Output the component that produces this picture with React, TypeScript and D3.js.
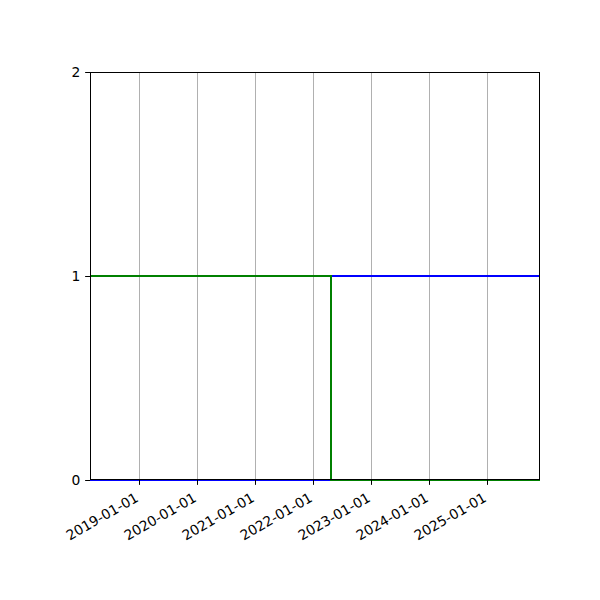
import React, { useEffect, useRef } from 'react';
import * as d3 from 'd3';

// x-axis extent and ticks (yearly)
const xStart = '2018-02-25';
const xEnd = '2025-12-03';
const tickDates = ['2019-01-01', '2020-01-01', '2021-01-01', '2022-01-01', '2023-01-01', '2024-01-01', '2025-01-01'];
const yTicks = [0, 1, 2];

// step series: value holds from its date until the next one
const blueDates = ['2018-02-25', '2022-04-27', '2025-12-03'];
const blueValues = [0, 1, 1];
const greenDates = ['2018-02-25', '2022-04-27', '2025-12-03'];
const greenValues = [1, 0, 0];

const parse = d3.timeParse('%Y-%m-%d');
const pt = 100 / 72; // points -> px at 100 dpi

const App: React.FC = () => {
  const svgRef = useRef<SVGSVGElement>(null);

  useEffect(() => {
    if (!svgRef.current) return;
    const svg = d3.select(svgRef.current);
    svg.selectAll('*').remove();

    const margin = { top: 72, right: 60, bottom: 120, left: 90 };
    const width = 600 - margin.left - margin.right;
    const height = 600 - margin.top - margin.bottom;
    const fontSize = 10 * pt;

    const g = svg.append('g').attr('transform', `translate(${margin.left},${margin.top})`);

    const x = d3.scaleTime()
      .domain([parse(xStart) as Date, parse(xEnd) as Date])
      .range([0, width]);
    const y = d3.scaleLinear().domain([0, 2]).range([height, 0]);

    const ticks = tickDates.map(d => parse(d) as Date);
    // snap to pixel centres like matplotlib does
    const sx = (d: Date) => Math.round(x(d)) + 0.5;

    // vertical grid
    g.append('g')
      .selectAll('line')
      .data(ticks)
      .enter()
      .append('line')
      .attr('x1', d => sx(d))
      .attr('x2', d => sx(d))
      .attr('y1', 0)
      .attr('y2', height)
      .attr('stroke', '#b0b0b0')
      .attr('stroke-width', 1);

    const line = d3.line<[Date, number]>()
      .x(d => Math.round(x(d[0])))
      .y(d => Math.round(y(d[1])))
      .curve(d3.curveStepAfter);

    const blue = blueDates.map((d, i) => [parse(d) as Date, blueValues[i]] as [Date, number]);
    const green = greenDates.map((d, i) => [parse(d) as Date, greenValues[i]] as [Date, number]);

    g.append('path')
      .attr('d', line(blue))
      .attr('fill', 'none')
      .attr('stroke', '#0000ff')
      .attr('stroke-width', 2);

    g.append('path')
      .attr('d', line(green))
      .attr('fill', 'none')
      .attr('stroke', '#008000')
      .attr('stroke-width', 2);

    // frame
    g.append('rect')
      .attr('x', 0.5)
      .attr('y', 0.5)
      .attr('width', width - 1)
      .attr('height', height - 1)
      .attr('fill', 'none')
      .attr('stroke', '#000')
      .attr('stroke-width', 1);

    const tickLen = 3.5 * pt;

    // x axis
    const xAxis = g.append('g')
      .attr('transform', `translate(0,${height})`)
      .call(d3.axisBottom(x).tickValues(ticks).tickSize(tickLen).tickPadding(tickLen)
        .tickFormat(d => d3.timeFormat('%Y-%m-%d')(d as Date)));
    xAxis.select('.domain').remove();
    xAxis.selectAll<SVGGElement, Date>('.tick')
      .attr('transform', d => `translate(${sx(d)},0)`);
    xAxis.selectAll('line').attr('stroke', '#000').attr('stroke-width', 1);
    const h = fontSize * 1.17;
    xAxis.selectAll<SVGTextElement, Date>('text')
      .attr('y', 0)
      .attr('dy', 0)
      .attr('text-anchor', 'end')
      .attr('transform', `translate(0,${2 * tickLen + h * 0.866 - fontSize * 0.24}) rotate(-30)`)
      .style('font-family', 'DejaVu Sans')
      .style('font-size', `${fontSize}px`)
      .attr('fill', '#000');

    // y axis
    const yAxis = g.append('g')
      .call(d3.axisLeft(y).tickValues(yTicks).tickSize(tickLen).tickPadding(tickLen).tickFormat(d3.format('d')));
    yAxis.select('.domain').remove();
    yAxis.selectAll<SVGGElement, number>('.tick')
      .attr('transform', d => `translate(0,${Math.round(y(d)) + 0.5})`);
    yAxis.selectAll('line').attr('stroke', '#000').attr('stroke-width', 1);
    yAxis.selectAll('text')
      .style('font-family', 'DejaVu Sans')
      .style('font-size', `${fontSize}px`)
      .attr('fill', '#000');
  }, []);

  return (
    <svg
      ref={svgRef}
      width={600}
      height={600}
      style={{ position: 'absolute', left: 0, top: 0, background: '#fff' }}
    />
  );
};

export default App;
